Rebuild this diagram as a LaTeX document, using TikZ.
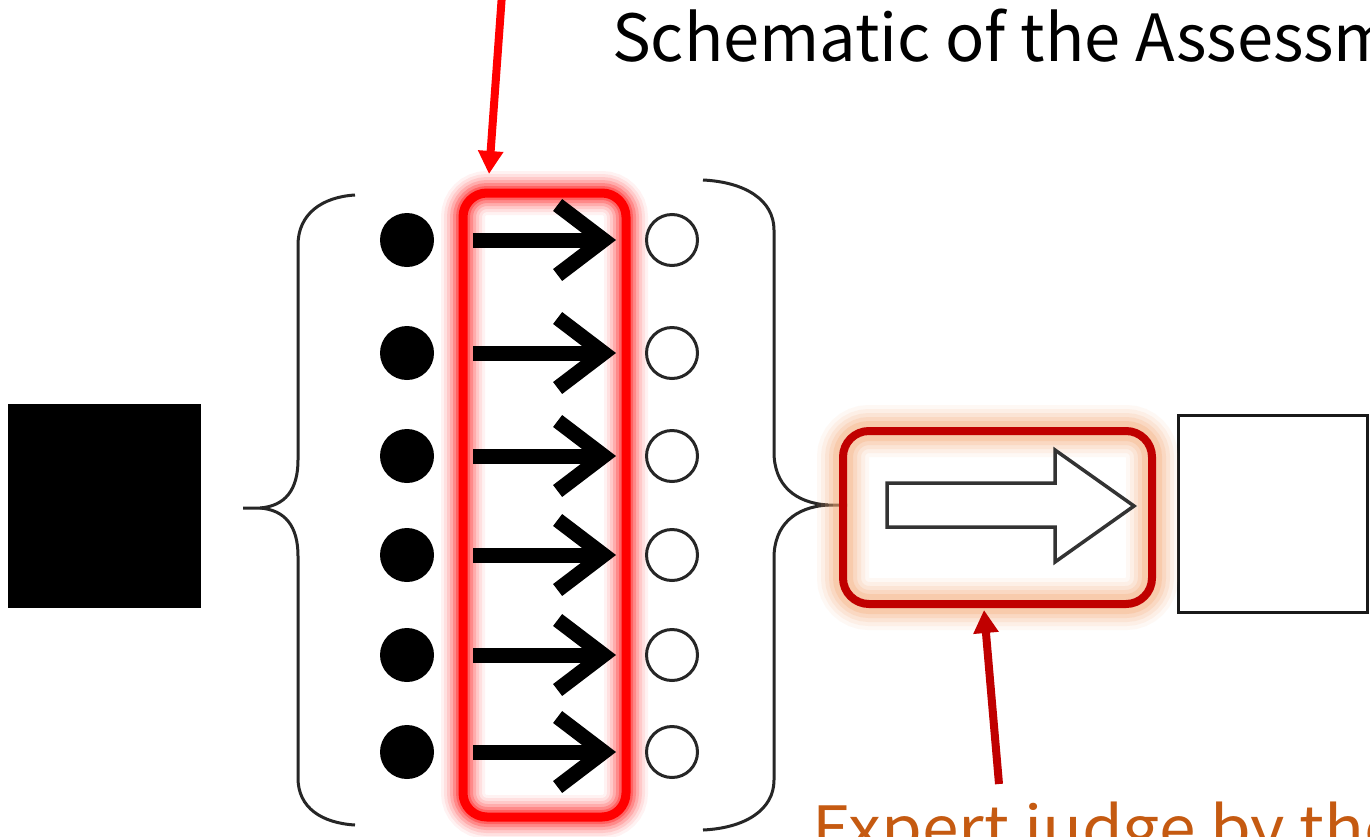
\documentclass[tikz,border=0pt]{standalone}
\usepackage{fontspec}
\usepackage{xcolor}
\usepackage{tikz}
\usetikzlibrary{arrows.meta}
\newfontfamily\headfont{Noto Sans CJK JP}
\newfontfamily\notefont[FakeStretch=1.08]{Noto Sans CJK JP}
\definecolor{framered}{RGB}{255,0,0}
\definecolor{darkred}{RGB}{192,0,0}
\definecolor{peach}{RGB}{246,170,118}
\definecolor{notebrown}{RGB}{197,90,17}

\begin{document}
\begin{tikzpicture}[
    x=1pt,y=-1pt,
    dot/.style={circle,fill=black,minimum size=54pt,inner sep=0pt},
    ring/.style={circle,draw=black!85,line width=3pt,minimum size=51pt,inner sep=0pt},
    brace/.style={line width=3pt,draw=black!85},
    rowarrow/.style={-{Straight Barb[length=46pt,width=70pt]},line width=15pt,
        shorten <=39pt,shorten >=29pt},
    pointer/.style={-{Triangle[length=23pt,width=24pt]},line width=8pt,draw=#1},
    redglow/.style={preaction={draw=framered,opacity=.05,line width=44pt},
        preaction={draw=framered,opacity=.07,line width=38pt},
        preaction={draw=framered,opacity=.1,line width=32pt},
        preaction={draw=framered,opacity=.14,line width=26pt},
        preaction={draw=framered,opacity=.2,line width=20pt},
        preaction={draw=framered,opacity=.28,line width=14pt}},
    peachglow/.style={preaction={draw=peach,opacity=.08,line width=52pt},
        preaction={draw=peach,opacity=.11,line width=44pt},
        preaction={draw=peach,opacity=.15,line width=36pt},
        preaction={draw=peach,opacity=.2,line width=28pt},
        preaction={draw=peach,opacity=.28,line width=20pt}},
    blockarrow/.style={draw=black!80,fill=white,line width=3.5pt,line join=miter}
]
\useasboundingbox (0,0) rectangle (1370,836);
\clip (0,0) rectangle (1370,836);
\fill[white] (0,0) rectangle (1370,836);

% title and note
\node[anchor=base west,inner sep=0pt,font=\headfont\fontsize{65pt}{70pt}\selectfont]
    (title) at (612,61) {Schematic of the Assessm};
\node[anchor=base west,inner sep=0pt,text=notebrown,font=\notefont\fontsize{61pt}{66pt}\selectfont]
    (note) at (812,850) {Expert judge by the};

% left and right boxes
\node[fill=black,minimum width=193pt,minimum height=204pt,inner sep=0pt] (source) at (104.5,506) {};
\node[draw=black!90,line width=3pt,minimum width=189pt,minimum height=197pt,inner sep=0pt] (result) at (1272.5,513.5) {};

% braces
\draw[brace] (355,195) .. controls (322,197) and (298,214) .. (298,245) -- (298,460)
    .. controls (298,490) and (285,506) .. (260,508) -- (243,508);
\draw[brace] (260,508) .. controls (285,510) and (298,526) .. (298,556) -- (298,778)
    .. controls (298,808) and (322,823) .. (355,825);
\draw[brace] (703,180) .. controls (745,182) and (774,200) .. (774,230) -- (774,452)
    .. controls (774,485) and (795,503) .. (828,505) -- (847,505);
\draw[brace] (828,505) .. controls (795,507) and (774,525) .. (774,558) -- (774,780)
    .. controls (774,810) and (745,828) .. (703,830);

% first judge: one check per row
\node[draw=framered,line width=9pt,rounded corners=24pt,minimum width=163pt,
    minimum height=624pt,inner sep=0pt,redglow] (judgeA) at (544.5,505) {};
\foreach \y [count=\i] in {240,353,456,555,655,752} {
    \node[dot] (p\i) at (407,\y) {};
    \node[ring] (q\i) at (672,\y) {};
    \draw[rowarrow] (p\i) -- (q\i);
}

% second judge: the whole set
\node[draw=darkred,line width=8pt,rounded corners=26pt,minimum width=309pt,
    minimum height=173pt,inner sep=0pt,peachglow] (judgeB) at (997.5,517.5) {};
\draw[blockarrow] (887,483) -- (1055,483) -- (1055,450) -- (1134,506)
    -- (1055,562) -- (1055,527) -- (887,527) -- cycle;

% pointers
\coordinate (tailA) at (502,-6);
\coordinate (headA) at (489,174);
\draw[pointer=framered] (tailA) -- (headA);
\coordinate (tailB) at (999,784);
\coordinate (headB) at (984,610);
\draw[pointer=darkred] (tailB) -- (headB);
\end{tikzpicture}
\end{document}
